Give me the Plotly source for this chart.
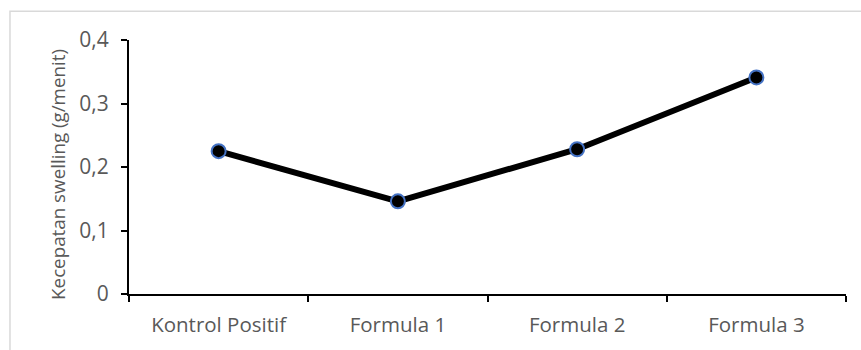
import plotly.graph_objects as go

categories = ["Kontrol Positif", "Formula 1", "Formula 2", "Formula 3"]
kecepatan = [0.225, 0.146, 0.228, 0.341]
y_ticks = [0, 0.1, 0.2, 0.3, 0.4]
y_tick_text = ["0", "0,1", "0,2", "0,3", "0,4"]
y_title = "Kecepatan swelling (g/menit)"

font_family = "Open Sans, Lato, DejaVu Sans, sans-serif"
label_grey = "#595959"

fig = go.Figure()
fig.add_trace(go.Scatter(
    x=categories,
    y=kecepatan,
    mode="lines+markers",
    line=dict(color="black", width=6),
    marker=dict(size=14, color="black", line=dict(color="#4472C4", width=2)),
    showlegend=False,
    cliponaxis=False,
))

fig.update_layout(
    width=861,
    height=350,
    margin=dict(l=129, r=15, t=40, b=54),
    plot_bgcolor="white",
    paper_bgcolor="white",
    font=dict(family=font_family, color=label_grey),
    xaxis=dict(
        type="category",
        tickson="boundaries",
        ticks="outside",
        ticklen=6,
        tickwidth=1.5,
        tickcolor="black",
        showline=True,
        linecolor="black",
        linewidth=2,
        showgrid=False,
        zeroline=False,
        tickfont=dict(size=20.5, color=label_grey),
        ticklabelstandoff=11,
        range=[-0.5, 3.5],
    ),
    yaxis=dict(
        range=[0, 0.4],
        tickvals=y_ticks,
        ticktext=y_tick_text,
        ticks="outside",
        ticklen=6,
        tickwidth=1.5,
        tickcolor="black",
        showline=True,
        linecolor="black",
        linewidth=2,
        showgrid=False,
        zeroline=False,
        tickfont=dict(size=21, color=label_grey),
        ticklabelstandoff=8,
    ),
    annotations=[
        dict(
            text=y_title,
            textangle=-90,
            xref="paper", yref="paper",
            x=-0.1, y=0.47,
            xanchor="center", yanchor="middle",
            showarrow=False,
            font=dict(size=18.8, color=label_grey),
        )
    ],
    shapes=[
        dict(
            type="rect",
            xref="paper", yref="paper",
            x0=-0.166, x1=1.2, y0=-0.5, y1=1.113,
            line=dict(color="#d9d9d9", width=1.5),
            fillcolor="rgba(0,0,0,0)",
            layer="below",
        )
    ],
)

fig.write_html("out.html")
